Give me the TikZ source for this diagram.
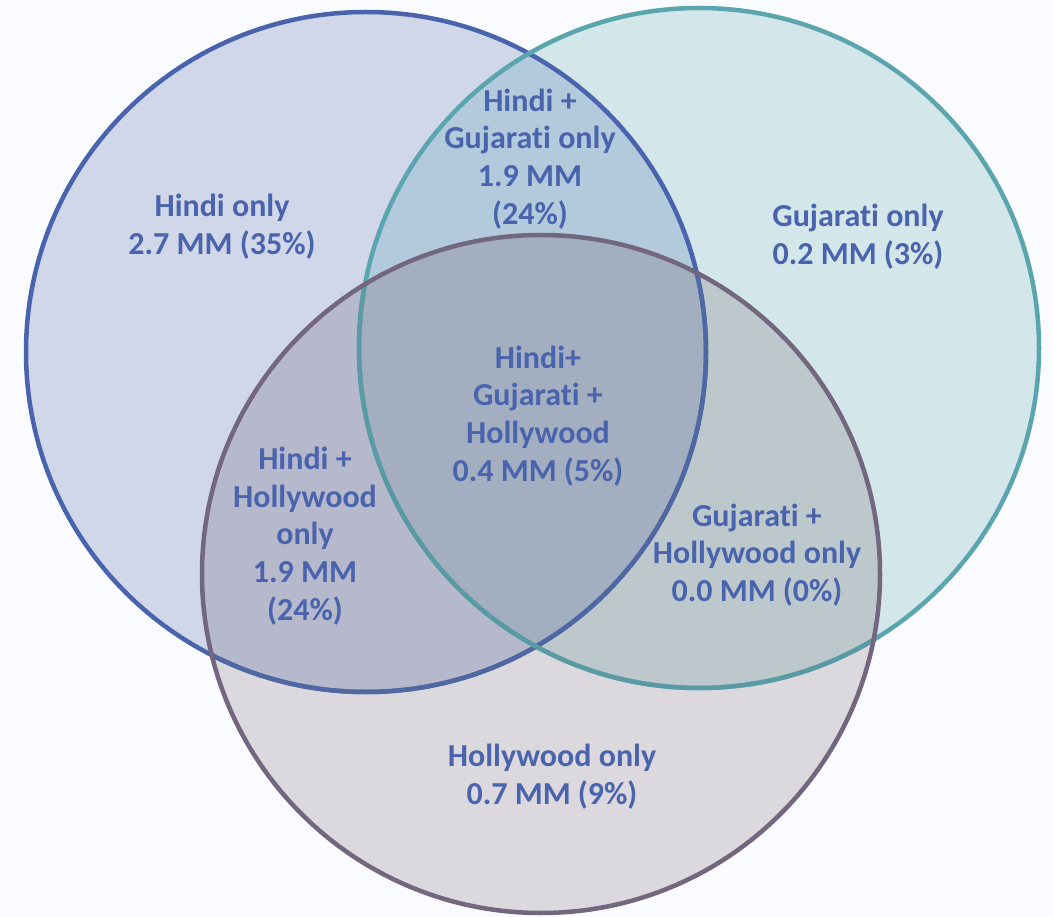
\documentclass[tikz,border=0pt]{standalone}
\usepackage{fontspec}
\setmainfont{Carlito}[Ligatures={NoCommon}]
\definecolor{bg}{HTML}{FAFBFE}
\definecolor{lineA}{HTML}{4A63AD}
\definecolor{lineB}{HTML}{5BA5AF}
\definecolor{lineC}{HTML}{73667F}
\definecolor{lineAm}{HTML}{5068A2}
\definecolor{lineBm}{HTML}{5A9AA5}
\definecolor{fA}{HTML}{D0D7E8}
\definecolor{fB}{HTML}{D3E6E9}
\definecolor{fC}{HTML}{DBD8DE}
\definecolor{fAB}{HTML}{B3C9DC}
\definecolor{fAC}{HTML}{B6B8CC}
\definecolor{fBC}{HTML}{BDC8CC}
\definecolor{fABC}{HTML}{A3AFC0}
\definecolor{txt}{HTML}{4A63AD}
\begin{document}
\begin{tikzpicture}[x=1pt,y=-1pt,
  lbl/.style={text=txt, align=center, font=\fontsize{32}{37.8}\selectfont\bfseries, inner sep=0pt},
  ring/.style={line width=4.5pt}]
\useasboundingbox (0,0) rectangle (1053,917);
\fill[bg] (0,0) rectangle (1053,917);
\def\cA{(366,352) circle[radius=340pt]}
\def\cB{(699,348) circle[radius=340pt]}
\def\cC{(541,574) circle[radius=339pt]}
\coordinate (A) at (366,352);
\coordinate (B) at (699,348);
\coordinate (C) at (541,574);
% single regions
\fill[fA] \cA;
\fill[fB] \cB;
\fill[fC] \cC;
% pairwise
\begin{scope}\clip \cA; \fill[fAB] \cB; \end{scope}
\begin{scope}\clip \cA; \fill[fAC] \cC; \end{scope}
\begin{scope}\clip \cB; \fill[fBC] \cC; \end{scope}
\begin{scope}\clip \cA; \clip \cB; \fill[fABC] \cC; \end{scope}
% outlines
\draw[ring, lineA] \cA;
\draw[ring, lineB] \cB;
\begin{scope}\clip \cC;
  \draw[ring, lineAm] \cA;
  \draw[ring, lineBm] \cB;
\end{scope}
\draw[ring, lineC] \cC;
% labels
\node[lbl] (hindi) at (222,227) {Hindi only\\2.7 MM (35\%)};
\node[lbl] (hg) at (530,159) {Hindi +\\Gujarati only\\1.9 MM\\(24\%)};
\node[lbl] (guj) at (858,237) {Gujarati only\\0.2 MM (3\%)};
\node[lbl] (all) at (538,416) {Hindi+\\Gujarati +\\Hollywood\\0.4 MM (5\%)};
\node[lbl] (hh) at (305,536) {Hindi +\\Hollywood\\only\\1.9 MM\\(24\%)};
\node[lbl] (gh) at (757,555) {Gujarati +\\Hollywood only\\0.0 MM (0\%)};
\node[lbl] (holly) at (552,777) {Hollywood only\\0.7 MM (9\%)};
\end{tikzpicture}
\end{document}
